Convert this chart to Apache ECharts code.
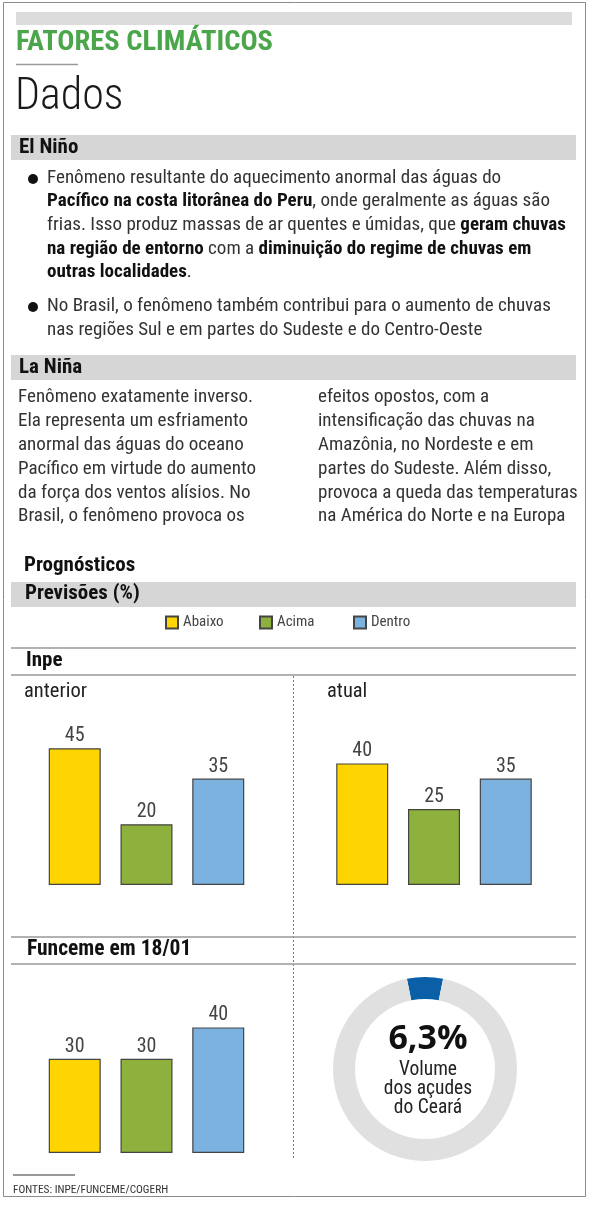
<!DOCTYPE html>
<html><head><meta charset="utf-8">
<script src="https://cdn.jsdelivr.net/npm/echarts@6/dist/echarts.min.js"></script>
<style>html,body{margin:0;padding:0;background:#fff}#c{width:600px;height:1211px}</style>
</head><body><div id="c"></div>
<script>
const categories = ['Abaixo', 'Acima', 'Dentro'];
const inpeAnterior = [45, 20, 35];
const inpeAtual = [40, 25, 35];
const funcemeJan = [30, 30, 40];
const volumeAcudes = 6.3;
const barColors = ['#ffd500', '#8db13c', '#7cb2e0'];

const elNinoLines = [
  'Fenômeno resultante do aquecimento anormal das águas do',
  '{b|Pacífico na costa litorânea do Peru}, onde geralmente as águas são',
  'frias. Isso produz massas de ar quentes e úmidas, que {b|geram chuvas}',
  '{b|na região de entorno} com a {b|diminuição do regime de chuvas em}',
  '{b|outras localidades}.'
];
const elNinoLines2 = [
  'No Brasil, o fenômeno também contribui para o aumento de chuvas',
  'nas regiões Sul e em partes do Sudeste e do Centro-Oeste'
];
const laNinaLeft = [
  'Fenômeno exatamente inverso.',
  'Ela representa um esfriamento',
  'anormal das águas do oceano',
  'Pacífico em virtude do aumento',
  'da força dos ventos alísios. No',
  'Brasil, o fenômeno provoca os'
];
const laNinaRight = [
  'efeitos opostos, com a',
  'intensificação das chuvas na',
  'Amazônia, no Nordeste e em',
  'partes do Sudeste. Além disso,',
  'provoca a queda das temperaturas',
  'na América do Norte e na Europa'
];

const F = "'Liberation Sans Narrow','Roboto Condensed','DejaVu Sans Condensed','Liberation Sans',sans-serif";
const BS = 19.05;

function txt(x, y, text, o) {
  return {
    type: 'text', x: x, y: y, z: 10,
    style: Object.assign({
      text: text, fontFamily: F, fontSize: BS, fill: '#333',
      verticalAlign: 'middle', align: 'left',
      rich: { b: { fontFamily: F, fontSize: BS, fontWeight: 'bold', fill: '#111' } }
    }, o || {})
  };
}
function head(x, y, text, size) {
  return txt(x, y, text, { fontSize: size || 21, fontWeight: 'bold', fill: '#111' });
}
function rect(x, y, w, h, fill) {
  return { type: 'rect', z: 1, shape: { x: x, y: y, width: w, height: h }, style: { fill: fill } };
}
function hline(x1, x2, y, stroke) {
  return { type: 'line', z: 2, shape: { x1: x1, y1: y, x2: x2, y2: y }, style: { stroke: stroke || '#999', lineWidth: 1.5 } };
}

const g = [];
g.push({ type: 'rect', z: 0, shape: { x: 3.5, y: 2.5, width: 582, height: 1194 }, style: { fill: '#fff', stroke: '#8a8a8a', lineWidth: 1 } });
g.push(rect(16, 12, 556, 13, '#dcdcdc'));
g.push(txt(16, 43, 'FATORES CLIMÁTICOS', { fontSize: 28.5, fontWeight: 'bold', fill: '#4ba64b' }));
g.push(hline(16, 78, 64.5, '#9a9a9a'));
g.push(txt(15, 98, 'Dados', { fontSize: 44, fontWeight: 300, fill: '#1a1a1a' }));

// El Niño
g.push(rect(11, 135, 565, 25, '#d6d6d6'));
g.push(head(19, 148, 'El Niño'));
const ey = [178, 201, 225, 249, 272];
elNinoLines.forEach((l, i) => g.push(txt(47, ey[i], l)));
g.push({ type: 'circle', z: 3, shape: { cx: 33, cy: 179, r: 5 }, style: { fill: '#111' } });
const ey2 = [306, 330];
elNinoLines2.forEach((l, i) => g.push(txt(47, ey2[i], l)));
g.push({ type: 'circle', z: 3, shape: { cx: 33, cy: 307, r: 5 }, style: { fill: '#111' } });

// La Niña
g.push(rect(11, 355, 565, 25, '#d6d6d6'));
g.push(head(19, 368, 'La Niña'));
const ly = [397, 421, 445, 469, 493, 516];
laNinaLeft.forEach((l, i) => g.push(txt(18, ly[i], l)));
laNinaRight.forEach((l, i) => g.push(txt(318, ly[i], l)));

// Prognósticos
g.push(head(24, 566, 'Prognósticos'));
g.push(rect(11, 582, 565, 25, '#d6d6d6'));
g.push(head(25, 594, 'Previsões (%)'));
g.push(hline(11, 576, 648));
g.push(head(26, 661, 'Inpe'));
g.push(hline(11, 576, 675));
g.push(txt(24, 692, 'anterior', { fontSize: 20.5, fill: '#222' }));
g.push(txt(327, 692, 'atual', { fontSize: 20.5, fill: '#222' }));
g.push({ type: 'line', z: 2, shape: { x1: 293.5, y1: 676, x2: 293.5, y2: 1160 }, style: { stroke: '#777', lineWidth: 1, lineDash: [2, 2] } });
g.push(hline(11, 576, 937));
g.push(head(27, 950, 'Funceme em 18/01', 21.5));
g.push(hline(11, 576, 964));
// donut centre text
g.push(txt(428, 1039, String(volumeAcudes).replace('.', ',') + '%', { fontSize: 34, fontWeight: 'bold', fill: '#111', align: 'center', fontFamily: "'Open Sans','Noto Sans',sans-serif" }));
g.push(txt(428, 1070, 'Volume', { fontSize: 19.5, fill: '#222', align: 'center' }));
g.push(txt(428, 1089, 'dos açudes', { fontSize: 19.5, fill: '#222', align: 'center' }));
g.push(txt(428, 1108, 'do Ceará', { fontSize: 19.5, fill: '#222', align: 'center' }));
// footer
g.push(hline(13, 75, 1175, '#777'));
g.push(txt(13, 1190, 'FONTES: INPE/FUNCEME/COGERH', { fontSize: 11.3, fill: '#333' }));

const grids = [
  { left: 39, width: 215, top: 581, height: 304 },
  { left: 326, width: 216, top: 581, height: 304 },
  { left: 39, width: 215, top: 839, height: 314 }
];
const groups = [inpeAnterior, inpeAtual, funcemeJan];
const series = [];
groups.forEach((vals, gi) => {
  categories.forEach((c, ci) => {
    series.push({
      type: 'bar', name: c, xAxisIndex: gi, yAxisIndex: gi,
      data: [vals[ci]], barWidth: 52, barGap: '38%',
      itemStyle: { color: barColors[ci], borderColor: '#444', borderWidth: 1.2 },
      label: { show: true, position: 'top', distance: 2, fontSize: 20, color: '#444', fontFamily: F },
      emphasis: { disabled: true }
    });
  });
});
series.push({
  type: 'pie', radius: [70, 92], center: [425, 1069], startAngle: 90 + volumeAcudes * 1.8, clockwise: true,
  label: { show: false }, labelLine: { show: false }, silent: true,
  data: [
    { value: volumeAcudes, name: 'Volume', itemStyle: { color: '#0a5fa6' } },
    { value: 100 - volumeAcudes, name: 'Vazio', itemStyle: { color: '#e0e0e0' } }
  ]
});

const legendLeft = [165, 259, 353];
const option = {
  animation: false,
  backgroundColor: '#fff',
  graphic: { elements: g },
  legend: categories.map((c, i) => ({
    data: [c], left: legendLeft[i], top: 615, padding: 0, itemGap: 0,
    itemWidth: 12, itemHeight: 12, icon: 'rect', selectedMode: false,
    textStyle: { fontSize: 15, color: '#444', fontFamily: F }
  })),
  grid: grids.map(gr => Object.assign({ containLabel: false }, gr)),
  xAxis: grids.map((gr, i) => ({ type: 'category', gridIndex: i, data: ['x'], show: false })),
  yAxis: grids.map((gr, i) => ({ type: 'value', gridIndex: i, min: 0, max: 100, show: false })),
  series: series
};
const chart = echarts.init(document.getElementById('c'), null, { renderer: 'canvas' });
chart.setOption(option);
</script></body></html>
